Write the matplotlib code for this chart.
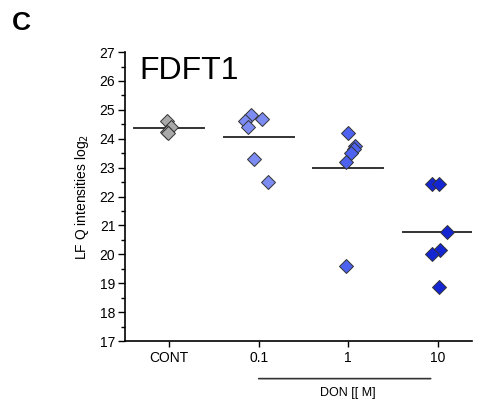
import numpy as np
import matplotlib.pyplot as plt
from matplotlib.ticker import MultipleLocator

plt.rcParams['font.family'] = ['Liberation Sans', 'DejaVu Sans']

# group labels and colours
groups = ["CONT", "0.1", "1", "10"]
colors = ["#a9a9a9", "#7c8cf2", "#4d63ef", "#1426d2"]

# LFQ intensities (log2) per group
cont_vals = [24.6, 24.4, 24.25, 24.2]
don01_vals = [24.84, 24.62, 24.67, 24.42, 23.30, 22.49]
don1_vals = [24.2, 23.75, 23.65, 23.5, 23.2, 19.6]
don10_vals = [22.43, 22.43, 20.78, 20.15, 20.0, 18.87]

# horizontal jitter of each diamond
cont_jit = [-0.02, 0.02, -0.02, -0.01]
don01_jit = [-0.09, -0.15, 0.04, -0.12, -0.05, 0.10]
don1_jit = [0.0, 0.08, 0.06, 0.03, -0.02, -0.03]
don10_jit = [-0.07, 0.01, 0.10, 0.02, -0.07, 0.01]

all_vals = [cont_vals, don01_vals, don1_vals, don10_vals]
all_jit = [cont_jit, don01_jit, don1_jit, don10_jit]

fig = plt.figure(figsize=(4.78, 4.07), dpi=100)
ax = fig.add_axes([0.2615, 0.162, 0.726, 0.71])

for i, (vals, jit, c) in enumerate(zip(all_vals, all_jit, colors)):
    xs = [i + j for j in jit]
    ax.plot(xs, vals, 'D', color=c, markersize=6.8,
            markeredgecolor='#333333', markeredgewidth=0.7, zorder=3)
    m = np.mean(vals)
    ax.plot([i - 0.39, i + 0.39], [m, m], color='#333333', lw=1.4, zorder=2)

ax.set_xlim(-0.49, 3.38)
ax.set_ylim(17, 27)
ax.set_xticks(range(4))
ax.set_xticklabels(groups, fontsize=10)
ax.yaxis.set_major_locator(MultipleLocator(1))
ax.yaxis.set_minor_locator(MultipleLocator(0.5))
ax.tick_params(axis='y', which='major', length=5, width=1, labelsize=10, pad=2)
ax.tick_params(axis='y', which='minor', length=3, width=1)
ax.tick_params(axis='x', length=4, width=1, pad=3)

ax.spines['top'].set_visible(False)
ax.spines['right'].set_visible(False)
ax.spines['left'].set_linewidth(1.2)
ax.spines['bottom'].set_linewidth(1.2)

ax.set_ylabel("LF Q intensities log$_2$", fontsize=10, labelpad=6)

ax.text(0.04, 0.985, "FDFT1", transform=ax.transAxes, fontsize=23,
        ha='left', va='top')

fig.text(0.024, 0.943, "C", fontsize=19, fontweight='bold', ha='left', va='center')

# DON bracket under the dose groups
ax.annotate("", xy=(0.97, -0.13), xytext=(2.95, -0.13),
            xycoords=('data', 'axes fraction'),
            arrowprops=dict(arrowstyle='-', color='#333333', lw=1.2))
ax.text(2.0, -0.18, "DON [[ M]", transform=ax.get_xaxis_transform(),
        fontsize=9, ha='center', va='center')

fig.savefig("out.png", dpi=100)
